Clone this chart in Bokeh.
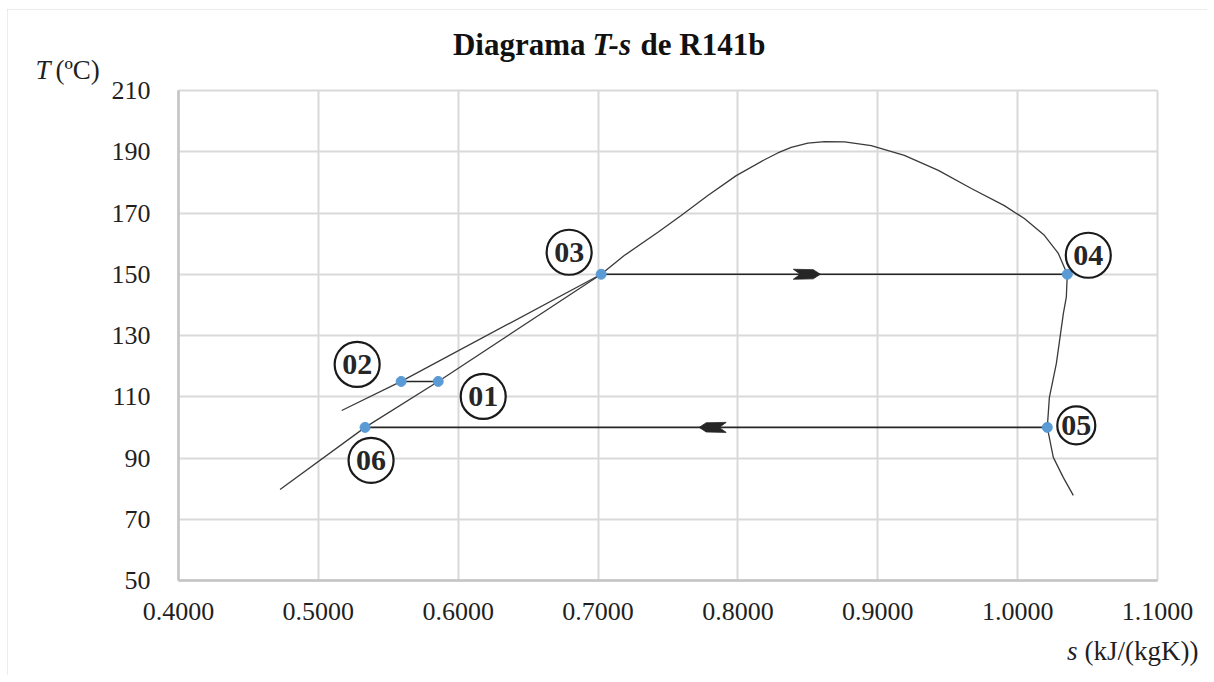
from bokeh.plotting import figure
from bokeh.models import FixedTicker, NumeralTickFormatter, ColumnDataSource, Grid
from bokeh.embed import file_html
from bokeh.resources import INLINE
from bokeh.core.properties import value

# ---------------- data ----------------
# saturation dome of R141b (liquid branch -> critical region -> vapour branch)
sat_s = [0.4726, 0.5334, 0.5857, 0.7022, 0.7187, 0.7428, 0.7594, 0.7785, 0.7988,
         0.8190, 0.8285, 0.8381, 0.8500, 0.8620, 0.8763, 0.8953, 0.9190, 0.9433,
         0.9669, 0.9905, 1.0048, 1.0191, 1.0291, 1.0334, 1.0355, 1.0348, 1.0327,
         1.0277, 1.0227, 1.0212, 1.0255, 1.0327, 1.0398]
sat_T = [79.7, 100.0, 115.0, 150.0, 156.1, 163.7, 169.2, 175.7, 182.2,
         187.4, 189.6, 191.4, 192.8, 193.3, 193.2, 192.0, 188.8, 183.9,
         178.0, 172.4, 168.2, 162.7, 156.8, 152.2, 150.0, 142.5, 137.2,
         120.9, 109.8, 100.0, 90.2, 83.6, 77.8]

# high-pressure liquid line (through state 02 up to 03)
hp_s = [0.5167, 0.5592, 0.7022]
hp_T = [105.5, 115.0, 150.0]

# cycle states
state_names = ["01", "02", "03", "04", "05", "06"]
state_s = [0.5857, 0.5592, 0.7022, 1.0355, 1.0212, 0.5334]
state_T = [115.0, 115.0, 150.0, 150.0, 100.0, 100.0]

# process segments between states (index pairs)
proc_from = [1, 2, 4]
proc_to = [0, 3, 5]

# direction arrows on the processes
arrow_s = [0.8589, 0.7723]
arrow_T = [150.0, 100.0]
arrow_dir = [1, -1]

x_ticks = [0.4, 0.5, 0.6, 0.7, 0.8, 0.9, 1.0, 1.1]
y_ticks = [50, 70, 90, 110, 130, 150, 170, 190, 210]

title_parts = ["Diagrama", "T-s", "de R141b"]
ylabel_parts = ["T", "(\u00baC)"]
xlabel_parts = ["s", "(kJ/(kgK))"]

# ---------------- layout constants ----------------
X0, X1 = x_ticks[0], x_ticks[-1]
Y0, Y1 = y_ticks[0], y_ticks[-1]
OX, OY = 7, 9                 # page position of the chart
CW, CH = 1200, 666            # chart size
PL, PT = 178, 90              # page position of the plot-area top-left
PW, PH = 979, 490             # plot-area size
PXS = PW / (X1 - X0)
PXT = PH / (Y1 - Y0)
BASE_FIX = 10                 # renderer's alphabetic-baseline correction (px)


def to_x(px):                 # page x -> s
    return X0 + (px - PL) / PXS


def to_y(py):                 # page y -> T
    return Y1 - (py - PT) / PXT


SERIF = "Liberation Serif"
TXT = "#1f1f1f"

p = figure(frame_width=CW, frame_height=CH, min_border=0,
           x_range=(to_x(OX), to_x(OX + CW)), y_range=(to_y(OY + CH), to_y(OY)),
           output_backend="svg", toolbar_location=None,
           background_fill_color="white", border_fill_color="white")
p.outline_line_color = None
p.styles = {"outline": "2px solid #d9d9d9", "outline-offset": "-2px",
            "margin-left": f"{OX}px", "margin-top": f"{OY}px"}

# axes, fixed at the plot-area edges
p.xaxis.fixed_location = Y0
p.yaxis.fixed_location = X0
p.xaxis.bounds = (X0, X1)
p.yaxis.bounds = (Y0, Y1)
for ax, ticks in ((p.xaxis, x_ticks), (p.yaxis, y_ticks)):
    ax.ticker = FixedTicker(ticks=ticks)
    ax.major_tick_line_color = None
    ax.minor_tick_line_color = None
    ax.axis_line_color = "#c4c4c4"
    ax.axis_line_width = 2.5
    ax.major_label_text_font = SERIF
    ax.major_label_text_font_size = "26px"
    ax.major_label_text_color = TXT
p.xaxis.formatter = NumeralTickFormatter(format="0.0000")
p.yaxis.formatter = NumeralTickFormatter(format="0")
p.xaxis.major_label_standoff = 16
p.yaxis.major_label_standoff = 22

# grid limited to the plot area
p.xgrid.ticker = FixedTicker(ticks=x_ticks)
p.ygrid.ticker = FixedTicker(ticks=y_ticks)
if "cross_bounds" in Grid.properties():
    p.xgrid.cross_bounds = (Y0, Y1)
    p.ygrid.cross_bounds = (X0, X1)
    for g in (p.xgrid, p.ygrid):
        g.grid_line_color = "#d9d9d9"
        g.grid_line_width = 2
        g.level = "underlay"
else:
    p.xgrid.visible = False
    p.ygrid.visible = False
    p.segment(x0=x_ticks, y0=[Y0] * len(x_ticks), x1=x_ticks, y1=[Y1] * len(x_ticks),
              line_color="#d9d9d9", line_width=2)
    p.segment(x0=[X0] * len(y_ticks), y0=y_ticks, x1=[X1] * len(y_ticks), y1=y_ticks,
              line_color="#d9d9d9", line_width=2)

# curves
p.line(sat_s, sat_T, line_color="#3a3a3a", line_width=1.3)
p.line(hp_s, hp_T, line_color="#3a3a3a", line_width=1.3)

# process lines
p.segment(x0=[state_s[i] for i in proc_from], y0=[state_T[i] for i in proc_from],
          x1=[state_s[i] for i in proc_to], y1=[state_T[i] for i in proc_to],
          line_color="#262626", line_width=1.6)

# arrow heads (shape in screen pixels, relative to tip)
shape = [(0, 0), (-7, -4.6), (-27, -5), (-20, 0), (-27, 5), (-7, 4.6)]
axs, ays = [], []
for s0, t0, d in zip(arrow_s, arrow_T, arrow_dir):
    axs.append([s0 + d * dx / PXS for dx, dy in shape])
    ays.append([t0 - dy / PXT for dx, dy in shape])
p.patches(axs, ays, fill_color="#262626", line_color="#262626", line_width=0.8)

# state points
p.scatter(state_s, state_T, size=10, fill_color="#5b9bd5", line_color="#5b9bd5")

# circled state labels
lab_dx = [45, -44, -32, 21, 29, 6]
lab_dy = [15, -17, -22, -19, -2, 33]
lab_size = [45, 45, 45, 45, 38, 45]
lx = [s + dx / PXS for s, dx in zip(state_s, lab_dx)]
ly = [t - dy / PXT for t, dy in zip(state_T, lab_dy)]
src = ColumnDataSource(dict(x=lx, y=ly, name=state_names, size=lab_size))
p.scatter("x", "y", size="size", source=src, fill_color="white",
          line_color="#1a1a1a", line_width=2.2)
p.text("x", "y", text="name", source=src, text_font=value(SERIF),
       text_font_style="bold", text_font_size="30px", text_align="center",
       text_baseline="middle", text_color="#262626")


def add_text(px, py, text, align, style, size, color=TXT):
    p.text(x=[to_x(px)], y=[to_y(py - BASE_FIX)], text=[text], text_align=align,
           text_baseline="alphabetic", text_font=value(SERIF),
           text_font_style=style, text_font_size=size, text_color=color)


# title
add_text(585, 54, title_parts[0], "right", "bold", "31px", "#111111")
add_text(592, 54, title_parts[1], "left", "bold italic", "31px", "#111111")
add_text(640, 54, title_parts[2], "left", "bold", "31px", "#111111")

# y axis title
add_text(35, 79, ylabel_parts[0], "left", "italic", "27px")
add_text(55, 79, ylabel_parts[1], "left", "normal", "27px")

# x axis title
add_text(1077, 660, xlabel_parts[0], "right", "italic", "27px")
add_text(1198, 660, xlabel_parts[1], "right", "normal", "27px")

open("out.html", "w").write(file_html(p, INLINE))
